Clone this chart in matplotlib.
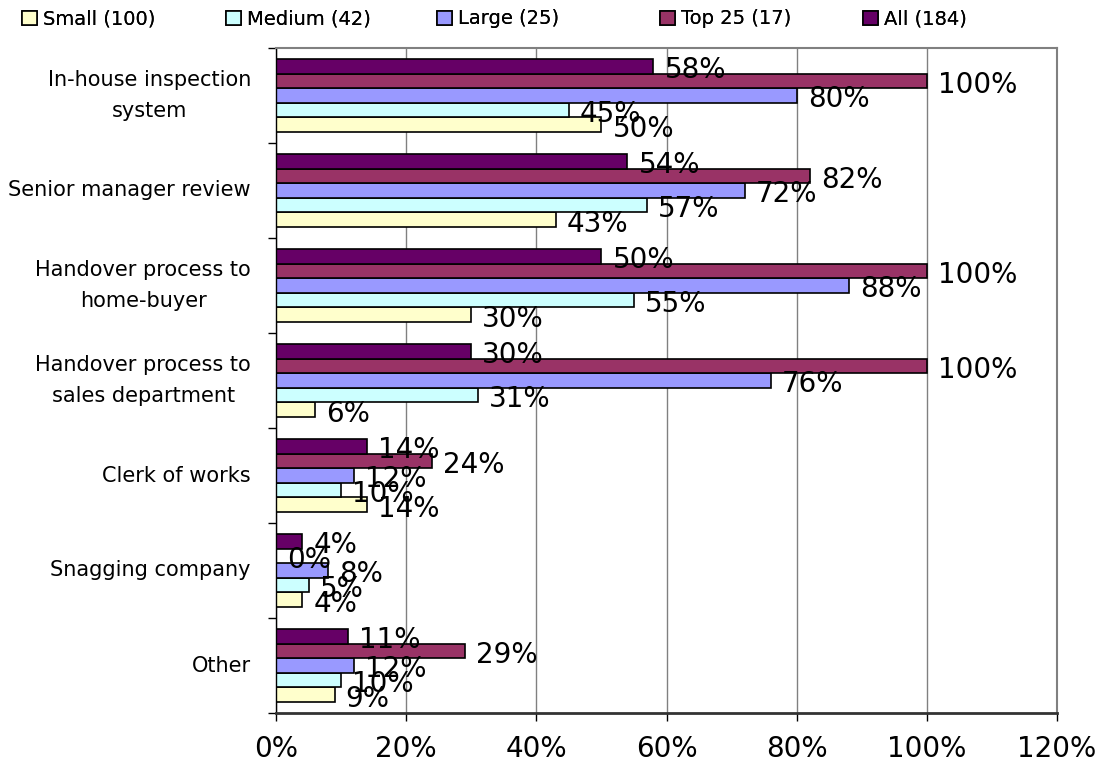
import matplotlib.pyplot as plt
from matplotlib.patches import Patch
from matplotlib.ticker import FixedLocator, FuncFormatter
import numpy as np

categories = [
    "In-house inspection\nsystem",
    "Senior manager review",
    "Handover process to\nhome-buyer",
    "Handover process to\nsales department",
    "Clerk of works",
    "Snagging company",
    "Other",
]

series_names = ["Small (100)", "Medium (42)", "Large (25)", "Top 25 (17)", "All (184)"]
small = [50, 43, 30, 6, 14, 4, 9]
medium = [45, 57, 55, 31, 10, 5, 10]
large = [80, 72, 88, 76, 12, 8, 12]
top25 = [100, 82, 100, 100, 24, 0, 29]
all_firms = [58, 54, 50, 30, 14, 4, 11]
series_values = [small, medium, large, top25, all_firms]
colors = ["#FFFFCC", "#CCFFFF", "#9999FF", "#993366", "#660066"]

x_ticks = [0, 20, 40, 60, 80, 100, 120]

fig = plt.figure(figsize=(11.1, 7.71), dpi=100)
ax = fig.add_axes([276 / 1110, 1 - 713 / 771, 781 / 1110, 665 / 771])

n_cat = len(categories)
pos = np.arange(n_cat)
h = 0.154

for j, (vals, col) in enumerate(zip(series_values, colors)):
    # Small at the bottom of each group, All at the top
    y = pos + (2 - j) * h
    ax.barh(y, vals, height=h, color=col, edgecolor="black", linewidth=1.2, zorder=2)
    for yy, v in zip(y, vals):
        ax.annotate(f"{v}%", xy=(v, yy), xytext=(8, -8.5), textcoords="offset points",
                    ha="left", va="baseline", fontsize=20, color="black", zorder=5,
                    annotation_clip=False)

ax.set_xlim(0, 120)
ax.set_ylim(n_cat - 0.5, -0.5)
ax.set_axisbelow(True)

ax.xaxis.set_major_locator(FixedLocator(x_ticks))
ax.xaxis.set_major_formatter(FuncFormatter(lambda v, p: f"{v:.0f}%"))
ax.tick_params(axis="x", which="major", direction="out", length=6, width=1,
               labelsize=20, pad=10)
ax.xaxis.grid(True, color="#808080", linewidth=1)

ax.yaxis.set_major_locator(FixedLocator(np.arange(-0.5, n_cat, 1.0)))
ax.yaxis.set_major_formatter(FuncFormatter(lambda v, p: ""))
ax.yaxis.set_minor_locator(FixedLocator(pos))
ax.set_yticklabels(categories, minor=True)
ax.tick_params(axis="y", which="major", direction="out", length=6, width=1)
ax.tick_params(axis="y", which="minor", length=0, pad=18, labelsize=15)
for lbl in ax.get_yticklabels(minor=True):
    lbl.set_multialignment("center")
    lbl.set_verticalalignment("center")
    lbl.set_linespacing(1.65)

for side in ("top", "right"):
    ax.spines[side].set_color("#808080")
    ax.spines[side].set_linewidth(1.5)
ax.spines["left"].set_color("black")
ax.spines["left"].set_linewidth(1)
ax.spines["bottom"].set_color("#333333")
ax.spines["bottom"].set_linewidth(2)

# one legend box per series so each entry sits at its own x position
legend_x = [22, 226, 437, 660, 863]
for name, col, lx in zip(series_names, colors, legend_x):
    leg = fig.legend([Patch(facecolor=col, edgecolor="black", linewidth=1.2)], [name],
                     loc="center left", bbox_to_anchor=(lx / 1110, 1 - 19 / 771),
                     frameon=False, fontsize=14, handlelength=0.75, handleheight=0.75,
                     handletextpad=0.35, borderpad=0, borderaxespad=0)
    fig.add_artist(leg)

fig.savefig("out.png", dpi=100)
